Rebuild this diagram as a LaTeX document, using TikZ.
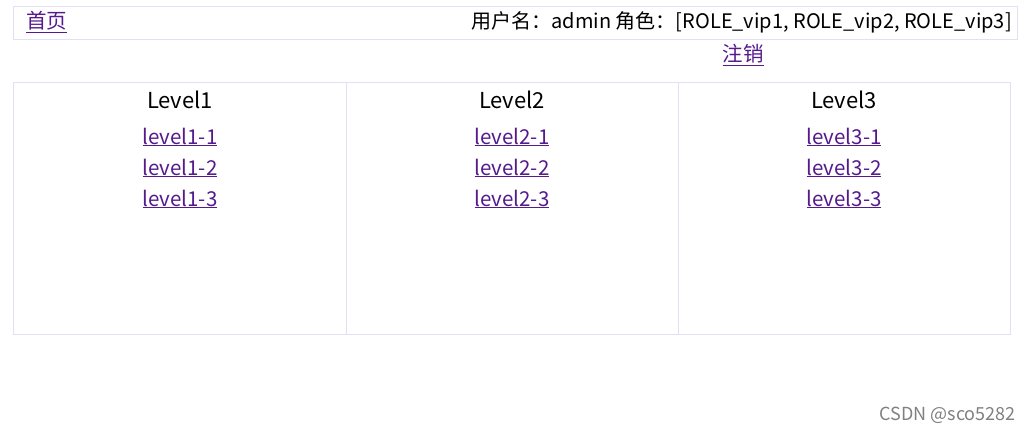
\documentclass[tikz,border=0pt]{standalone}
\usepackage{fontspec}
\setmainfont{Noto Sans CJK SC}
\definecolor{bord}{HTML}{E2E0F2}
\definecolor{lnk}{HTML}{551A8B}
\begin{document}
\begin{tikzpicture}[x=1pt,y=-1pt,
  box/.style={draw=bord,line width=1pt},
  lk/.style={text=lnk,font=\fontsize{20.5}{22}\selectfont,inner sep=0pt},
  tt/.style={font=\fontsize{22}{24}\selectfont,inner sep=0pt},
  tx/.style={font=\fontsize{20}{22}\selectfont,inner sep=0pt}]
\useasboundingbox (0,0) rectangle (1030,432);
\draw[box] (13,6) rectangle (1017,39);
\node[lk,anchor=west] (home) at (26,22) {\underline{首页}};
\node[tx,anchor=east] (user) at (1012,22) {用户名：admin 角色：[ROLE\_vip1, ROLE\_vip2, ROLE\_vip3]};
\node[lk] (logout) at (743,55) {\underline{注销}};
\draw[box] (13,82) rectangle (346,334);
\draw[box] (346,82) rectangle (678,334);
\draw[box] (678,82) rectangle (1010,334);
\foreach \i/\x in {1/180,2/512,3/844}{
  \node[tt] (t\i) at (\x,100) {Level\i};
  \node[lk] (a\i) at (\x,137) {\underline{level\i-1}};
  \node[lk] (b\i) at (\x,168) {\underline{level\i-2}};
  \node[lk] (c\i) at (\x,199) {\underline{level\i-3}};
}
\node[inner sep=0pt,anchor=east,text=gray,font=\fontsize{18}{20}\selectfont] (wm) at (1016,415) {CSDN @sco5282};
\end{tikzpicture}
\end{document}
